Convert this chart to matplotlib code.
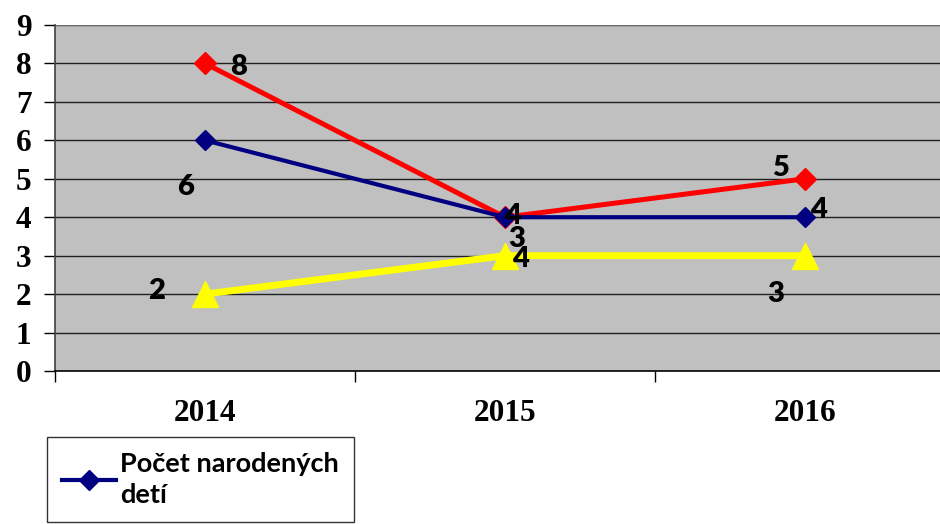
import matplotlib
matplotlib.use("Agg")
import matplotlib.pyplot as plt
from matplotlib.ticker import FixedLocator

years = ["2014", "2015", "2016"]
births = [6, 4, 4]          # navy, "Počet narodených detí"
series_red = [8, 4, 5]
series_yellow = [2, 3, 3]
legend_label = "Počet narodených\ndetí"
y_ticks = list(range(0, 10))

# label offsets (pixels) for the data labels
off_navy = [(-19, -47), (7, 1), (13, 7)]
off_red = [(34, -4), (15, -42), (-24, 11)]
off_yellow = [(-48, 3), (12, 17), (-29, -38)]

DPI = 100
fig = plt.figure(figsize=(9.40, 5.24), dpi=DPI)
W, H = 940, 524
left, right, top, bottom = 55, 955, 25, 371
ax = fig.add_axes([left / W, 1 - bottom / H, (right - left) / W, (bottom - top) / H])
ax.set_facecolor("#C0C0C0")

x = list(range(len(years)))
ax.set_xlim(-0.5, 2.5)
ax.set_ylim(0, 9)

for v in y_ticks[1:]:
    ax.axhline(v, color="#202020", lw=1.0, zorder=1)

l_navy, = ax.plot(x, births, color="#000080", lw=3.0, marker="D", markersize=10,
                  zorder=4, solid_joinstyle="miter")
ax.plot(x, series_red, color="#FF0000", lw=3.6, marker="D", markersize=11, zorder=3)
ax.plot(x, series_yellow, color="#FFFF00", lw=5.0, marker="^", markersize=19, zorder=3)

lab_font = dict(family=["Lato", "DejaVu Sans"], fontsize=21, fontweight="heavy", color="black")
for vals, offs in ((births, off_navy), (series_red, off_red), (series_yellow, off_yellow)):
    for xi, v, o in zip(x, vals, offs):
        ax.annotate(str(v), (xi, v), xytext=o, textcoords="offset pixels",
                    ha="center", va="center", zorder=6, **lab_font)

ax.set_yticks(y_ticks)
ax.set_yticklabels([str(t) for t in y_ticks], family="Liberation Serif",
                   fontsize=22.5, fontweight="bold")
ax.set_xticks(x)
ax.set_xticklabels(years, family="Liberation Serif", fontsize=22.5, fontweight="bold")
ax.xaxis.set_minor_locator(FixedLocator([-0.5, 0.5, 1.5, 2.5]))
ax.tick_params(axis="x", which="major", length=0, pad=20)
ax.tick_params(axis="x", which="minor", length=8, width=1, color="black", direction="out")
ax.tick_params(axis="y", length=8, width=1, color="black", direction="out", pad=9)

for s in ("top", "right"):
    ax.spines[s].set_visible(False)
ax.spines["left"].set_color("#404040")
ax.spines["bottom"].set_color("black")
ax.spines["left"].set_linewidth(1.2)
ax.spines["bottom"].set_linewidth(1.2)
ax.axhline(9, color="#808080", lw=1.2, zorder=2)

leg = fig.legend([l_navy], [legend_label], loc="upper left",
                 bbox_to_anchor=(47 / W, 1 - 437 / H), frameon=True, fancybox=False,
                 prop=dict(family=["Lato", "DejaVu Sans"], size=19.5, weight="bold"),
                 handlelength=2.0, handletextpad=0.15, borderpad=0.55, borderaxespad=0)
for t in leg.get_texts():
    t.set_linespacing(1.35)
leg.get_frame().set_edgecolor("black")
leg.get_frame().set_linewidth(1.0)

fig.savefig("out.png", dpi=DPI)
